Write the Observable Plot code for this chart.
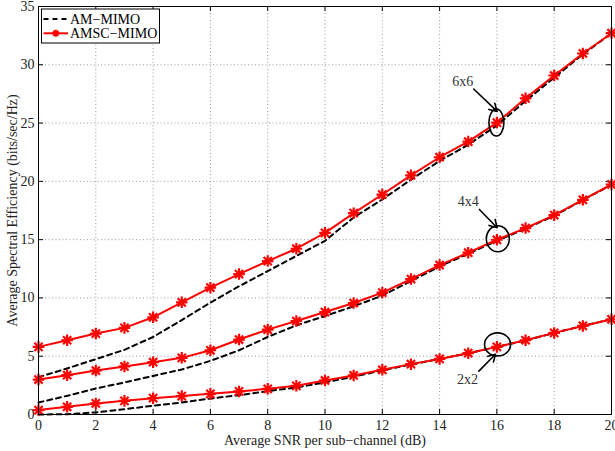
<!DOCTYPE html>
<html>
<head>
<meta charset="utf-8">
<script src="https://cdn.jsdelivr.net/npm/d3@7"></script>
<script src="https://cdn.jsdelivr.net/npm/@observablehq/plot@0.6"></script>
<style>
  html, body { margin: 0; padding: 0; background: white; }
  #chart { width: 615px; height: 451px; overflow: hidden; }
</style>
</head>
<body>
<div id="chart"></div>
<script>
// SNR values (dB)
const snr = [0,1,2,3,4,5,6,7,8,9,10,11,12,13,14,15,16,17,18,19,20];

// AM-MIMO (dashed black)
const am6 = [3.2,3.95,4.75,5.55,6.65,8.1,9.6,11.0,12.3,13.6,14.9,16.9,18.45,20.15,21.75,23.15,24.8,26.9,28.9,30.9,32.7];
const am4 = [1.03,1.6,2.23,2.75,3.31,3.86,4.6,5.51,6.65,7.65,8.45,9.28,10.2,11.45,12.7,13.8,14.9,15.95,17.05,18.4,19.7];
const am2 = [0.0,0.03,0.18,0.46,0.75,1.03,1.37,1.66,2.0,2.32,2.75,3.25,3.78,4.3,4.76,5.25,5.8,6.36,7.0,7.6,8.17];

// AMSC-MIMO (red with markers)
const amsc6 = [5.8,6.37,6.94,7.43,8.34,9.62,10.88,12.05,13.16,14.22,15.58,17.27,18.87,20.52,22.07,23.41,25.04,27.12,29.08,30.97,32.71];
const amsc4 = [3.0,3.37,3.77,4.12,4.49,4.86,5.51,6.43,7.28,8.02,8.79,9.56,10.45,11.62,12.82,13.88,14.99,15.99,17.1,18.42,19.73];
const amsc2 = [0.38,0.66,0.95,1.17,1.4,1.58,1.77,1.98,2.2,2.46,2.92,3.35,3.83,4.32,4.77,5.26,5.8,6.37,7.0,7.6,8.17];

// Ticks
const xTicks = [0,2,4,6,8,10,12,14,16,18,20];
const yTicks = [0,5,10,15,20,25,30,35];

// Legend & labels
const seriesNames = ["AM\u2212MIMO", "AMSC\u2212MIMO"];
const xLabel = "Average SNR per sub\u2212channel (dB)";
const yLabel = "Average Spectral Efficiency (bits/sec/Hz)";

// Annotations: label, text position, arrow start, arrow end, ellipse centre
const annLabels = ["6x6", "4x4", "2x2"];
const annText = [[14.81, 28.57], [15.0, 18.27], [14.97, 3.0]];
const annArrowFrom = [[15.19, 27.92], [15.39, 17.59], [15.37, 3.72]];
const annArrowTo = [[16.01, 26.0], [16.01, 16.02], [15.95, 5.17]];
const annEllipse = [[16.0, 25.0], [16.05, 15.03], [16.04, 5.97]];

function rows(vals, size) { return vals.map((v, i) => ({snr: snr[i], v, size})); }
const amRows = [...rows(am6, "6x6"), ...rows(am4, "4x4"), ...rows(am2, "2x2")];
const amscRows = [...rows(amsc6, "6x6"), ...rows(amsc4, "4x4"), ...rows(amsc2, "2x2")];

const ann = annLabels.map((t, i) => ({
  t, tx: annText[i][0], ty: annText[i][1],
  x1: annArrowFrom[i][0], y1: annArrowFrom[i][1],
  x2: annArrowTo[i][0], y2: annArrowTo[i][1],
  ex: annEllipse[i][0], ey: annEllipse[i][1]
}));

const font = "'Liberation Serif', 'Times New Roman', serif";

const chart = Plot.plot({
  width: 615, height: 451,
  marginLeft: 38, marginRight: 4, marginTop: 6, marginBottom: 37,
  style: {fontFamily: font, fontSize: "14px", background: "white", color: "black"},
  x: {domain: [0, 20]},
  y: {domain: [0, 35]},
  marks: [
    Plot.gridX(xTicks, {stroke: "#9a9a9a", strokeOpacity: 1, strokeDasharray: "1,2.5"}),
    Plot.gridY(yTicks, {stroke: "#9a9a9a", strokeOpacity: 1, strokeDasharray: "1,2.5"}),
    Plot.axisX(xTicks, {tickSize: 0, tickPadding: 6, label: null, fontSize: 14, fill: "#222"}),
    Plot.axisY(yTicks, {tickSize: 0, tickPadding: 4, label: null, fontSize: 14, fill: "#222"}),
    // inward ticks on all sides
    Plot.ruleX(xTicks, {x: d => d, y1: 0, y2: 0.43, stroke: "black"}),
    Plot.ruleX(xTicks, {x: d => d, y1: 35, y2: 34.57, stroke: "black"}),
    Plot.ruleY(yTicks, {y: d => d, x1: 0, x2: 0.175, stroke: "black"}),
    Plot.ruleY(yTicks, {y: d => d, x1: 20, x2: 19.825, stroke: "black"}),
    Plot.line(amRows, {x: "snr", y: "v", z: "size", stroke: "black", strokeWidth: 2, strokeDasharray: "5,4"}),
    Plot.line(amscRows, {x: "snr", y: "v", z: "size", stroke: "#ff0000", strokeWidth: 2}),
    Plot.dot(amscRows, {x: "snr", y: "v", symbol: "plus", r: 3.8, stroke: "#ff0000", strokeWidth: 2.2}),
    Plot.dot(amscRows, {x: "snr", y: "v", symbol: "times", r: 3.8, stroke: "#ff0000", strokeWidth: 2.2}),
    Plot.arrow(ann, {x1: "x1", y1: "y1", x2: "x2", y2: "y2", stroke: "black", strokeWidth: 1.6, headLength: 8}),
    Plot.text(ann, {x: "tx", y: "ty", text: "t", fill: "#333", fontSize: 14}),
    Plot.frame({stroke: "black"}),
    Plot.text([xLabel], {frameAnchor: "bottom", dy: 30, fontSize: 14, fill: "#222"}),
    Plot.text([yLabel], {frameAnchor: "left", textAnchor: "middle", rotate: -90, dx: -26, fontSize: 14, fill: "#222"})
  ]
});

document.getElementById("chart").appendChild(chart);

// Ellipses and legend overlay, positioned with the plot's scales
const sx = chart.scale("x"), sy = chart.scale("y");
const svg = d3.select(chart);
const ellR = [[7.5, 13.5], [11.5, 13], [13, 11.5]];
svg.append("g").selectAll("ellipse").data(ann).join("ellipse")
  .attr("cx", d => sx.apply(d.ex)).attr("cy", d => sy.apply(d.ey))
  .attr("rx", (d, i) => ellR[i][0]).attr("ry", (d, i) => ellR[i][1])
  .attr("fill", "none").attr("stroke", "black").attr("stroke-width", 1.6);

const lg = svg.append("g").attr("font-family", font).attr("font-size", 14).attr("text-anchor", "start");
lg.append("rect").attr("x", 41.5).attr("y", 9).attr("width", 118).attr("height", 34)
  .attr("fill", "white").attr("stroke", "black").attr("stroke-width", 1);
lg.append("line").attr("x1", 43.5).attr("x2", 68).attr("y1", 19).attr("y2", 19)
  .attr("stroke", "black").attr("stroke-width", 2).attr("stroke-dasharray", "5,4");
lg.append("line").attr("x1", 43.5).attr("x2", 68).attr("y1", 33.3).attr("y2", 33.3)
  .attr("stroke", "#ff0000").attr("stroke-width", 2);
lg.append("path").attr("d", "M52.3,33.3h7M55.8,29.8v7M53.3,30.8l5,5M53.3,35.8l5,-5")
  .attr("stroke", "#ff0000").attr("stroke-width", 2);
lg.selectAll("text").data(seriesNames).join("text")
  .attr("x", 70).attr("y", (d, i) => i ? 38 : 23.5).text(d => d).attr("fill", "black");
</script>
</body>
</html>
